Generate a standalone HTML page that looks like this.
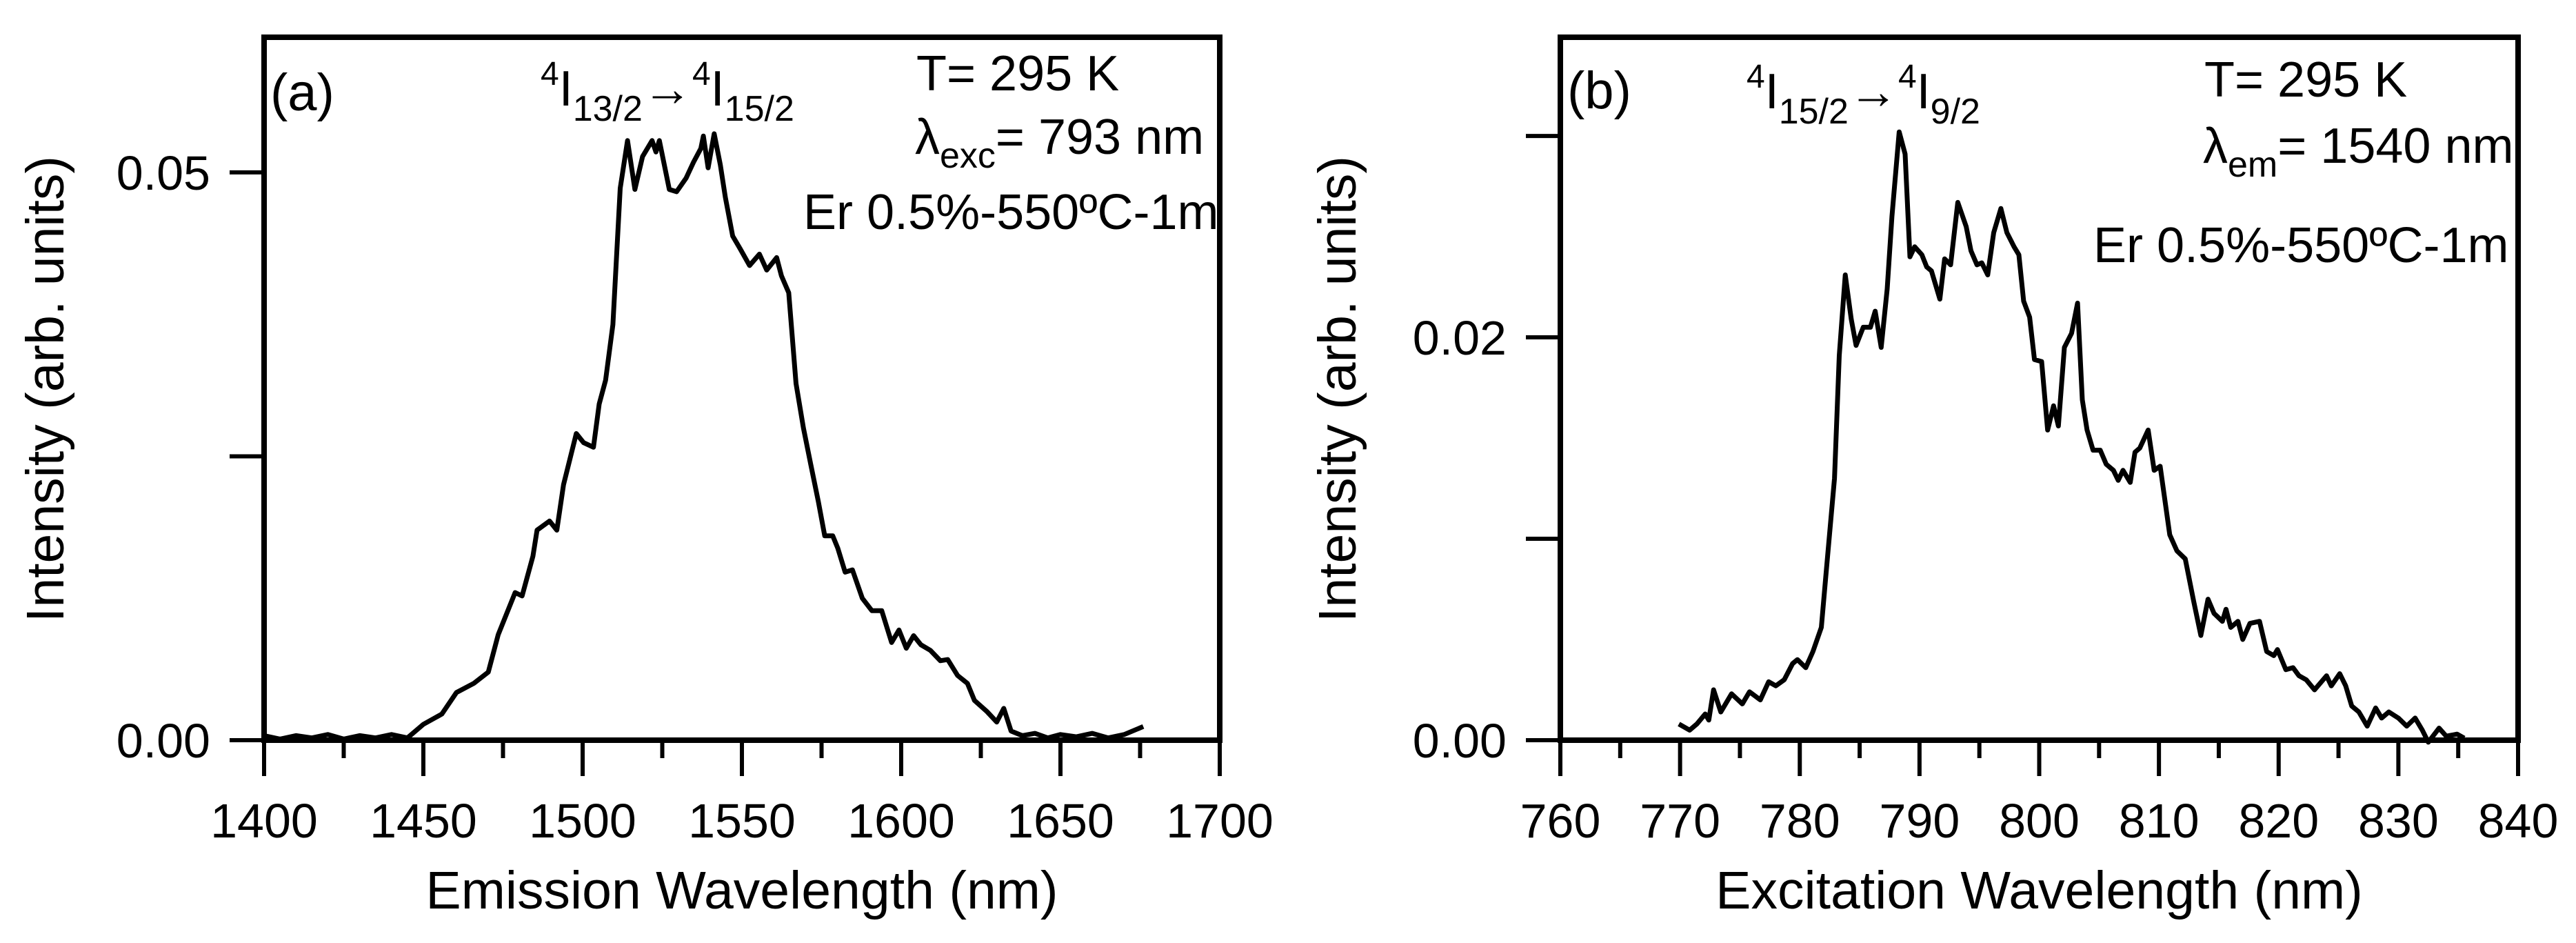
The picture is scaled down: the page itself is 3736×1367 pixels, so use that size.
<!DOCTYPE html>
<html><head><meta charset="utf-8"><style>
html,body{margin:0;padding:0;background:#fff;}
svg{display:block;font-family:"Liberation Sans",Arial,sans-serif;}
</style></head><body>
<svg id="chart" width="3736" height="1367" viewBox="0 0 3736 1367" xmlns="http://www.w3.org/2000/svg">
<rect width="3736" height="1367" fill="#fff"/>
<g id="panelA"></g>
<g id="panelB"></g>
</svg>
<script>
// Panel (a) emission data
const emWl = [1400,1405,1410,1415,1420,1425,1430,1435,1440,1445,1450,1455.8,1460.4,1465.8,1470.4,1473.5,1478.8,1481,1484.4,1485.7,1489.6,1491.9,1494,1498,1500.3,1503.4,1505.2,1507.2,1509.5,1511.8,1514.1,1516.4,1518.8,1521.8,1523,1524.1,1527.2,1529.5,1532.5,1534.8,1537.1,1537.9,1539.4,1541.3,1543.2,1544.8,1547.1,1549.4,1552.4,1555.5,1557.8,1560.9,1562.4,1564.7,1567,1569.3,1571.6,1574,1576,1578.5,1580.1,1582.4,1584.7,1587.8,1590.8,1593.9,1597,1599.3,1601.6,1603.9,1606.2,1609.2,1612.3,1614.6,1617.7,1620.8,1623,1627,1630,1632.2,1634.5,1638,1642,1646,1650,1655,1660,1665,1670,1676];
const emInt = [0.0004,0.0001,0.0004,0.0002,0.0005,0.0001,0.0004,0.0002,0.0005,0.0002,0.0014,0.0023,0.0042,0.005,0.006,0.0093,0.013,0.0127,0.0162,0.0185,0.0193,0.0185,0.0225,0.027,0.0262,0.0258,0.0296,0.0317,0.0366,0.0486,0.0528,0.0485,0.0514,0.0528,0.0518,0.0528,0.0485,0.0483,0.0495,0.0509,0.0521,0.0532,0.0504,0.0534,0.0507,0.0478,0.0444,0.0433,0.0418,0.0428,0.0414,0.0425,0.0409,0.0394,0.0314,0.0275,0.0243,0.021,0.018,0.018,0.0169,0.0148,0.015,0.0125,0.0114,0.0114,0.0086,0.0097,0.0081,0.0092,0.0084,0.0079,0.007,0.0071,0.0057,0.005,0.0035,0.0025,0.0016,0.0028,0.0008,0.0004,0.0006,0.0002,0.0005,0.0003,0.0006,0.0002,0.0005,0.0012];
const emXTicks = [1400,1450,1500,1550,1600,1650,1700];
const emYTicks = [0, 0.05];
const emYTickLabels = ["0.00","0.05"];
// Panel (b) excitation data
const exWl = [769.9,770.8,771.4,772.1,772.4,772.8,773.4,774.3,775.2,775.8,776.7,777.4,778,778.7,779.4,779.8,780.5,781.1,781.8,782.2,782.9,783.3,783.8,784.3,784.7,785.3,785.9,786.3,786.8,787.3,787.7,788.3,788.8,789.2,789.6,790.2,790.6,791,791.7,792.1,792.6,793.2,793.9,794.3,794.8,795.2,795.7,796.2,796.8,797.3,797.9,798.3,798.7,799.2,799.6,800.2,800.7,801.2,801.6,802.1,802.7,803.2,803.6,804,804.5,805.1,805.6,806.2,806.6,807,807.6,808,808.4,809.1,809.6,810.1,810.9,811.5,812.2,812.9,813.5,814.1,814.6,815.3,815.6,816,816.6,817,817.6,818.4,819,819.6,819.9,820.6,821.2,821.7,822.3,823,824,824.4,825.1,825.6,826.1,826.7,827.4,828.1,828.6,829.2,830,830.7,831.4,832,832.5,833.4,834,834.9,835.5];
const exInt = [0.0008,0.0005,0.0008,0.0013,0.001,0.0025,0.0014,0.0023,0.0018,0.0024,0.002,0.0029,0.0027,0.003,0.0038,0.004,0.0036,0.0044,0.0056,0.0083,0.013,0.0191,0.0231,0.0209,0.0196,0.0205,0.0205,0.0213,0.0195,0.0224,0.026,0.0302,0.0291,0.024,0.0245,0.0241,0.0235,0.0233,0.0219,0.0239,0.0236,0.0267,0.0255,0.0243,0.0236,0.0237,0.0231,0.0252,0.0264,0.0252,0.0245,0.0241,0.0218,0.021,0.0189,0.0188,0.0154,0.0166,0.0156,0.0195,0.0202,0.0217,0.0169,0.0154,0.0144,0.0144,0.0137,0.0134,0.0129,0.0134,0.0128,0.0143,0.0145,0.0154,0.0134,0.0136,0.0102,0.0094,0.009,0.0069,0.0052,0.007,0.0063,0.0059,0.0065,0.0056,0.0059,0.005,0.0058,0.0059,0.0044,0.0042,0.0045,0.0035,0.0036,0.0032,0.003,0.0025,0.0032,0.0027,0.0033,0.0027,0.0017,0.0014,0.0007,0.0016,0.0011,0.0014,0.0011,0.0007,0.0011,0.0005,-0.0001,0.0006,0.0002,0.0003,0.0001];
const exXTicks = [760,770,780,790,800,810,820,830,840];
const exYTicks = [0, 0.02];
const exYTickLabels = ["0.00","0.02"];

const NS = "http://www.w3.org/2000/svg";
function mk(parent, tag, attrs, text){
  const e = document.createElementNS(NS, tag);
  for (const k in attrs) e.setAttribute(k, attrs[k]);
  if (text !== undefined) e.textContent = text;
  parent.appendChild(e);
  return e;
}

function drawPanel(g, cfg){
  const L=cfg.left,R=cfg.right,T=54,B=1073;
  const sx = v => L + (v-cfg.xmin)/(cfg.xmax-cfg.xmin)*(R-L);
  const sy = v => B - (v-0)/(cfg.ymax)*(B-T);
  for (let v=cfg.xmin; v<=cfg.xmax+1e-9; v+=cfg.xMinorStep){
    const isMajor = Math.abs(((v-cfg.xmin)/cfg.xMajorStep) - Math.round((v-cfg.xmin)/cfg.xMajorStep))<1e-6;
    const t = mk(g,'line',{x1:sx(v),x2:sx(v),y1:B,y2:B+(isMajor?52:26),stroke:'#000','stroke-width':6});
    
    
  }
  cfg.xTicks.forEach(v=>{
    const t = mk(g,'text',{x:sx(v),y:1214,'font-size':70,'text-anchor':'middle',fill:'#000'}, String(v));
    
    
  });
  for (let v=0; v<=cfg.ymax+1e-9; v+=cfg.yMinorStep){
    const t = mk(g,'line',{x1:L-50,x2:L,y1:sy(v),y2:sy(v),stroke:'#000','stroke-width':6});
    
    
  }
  cfg.yTicks.forEach((v,i)=>{
    const t = mk(g,'text',{x:L-78,y:sy(v)+25,'font-size':70,'text-anchor':'end',fill:'#000'}, cfg.yLabels[i]);
    
    
  });
  let d='';
  cfg.xs.forEach((x,i)=>{ d += (i?'L':'M') + sx(x).toFixed(1) + ',' + sy(cfg.ys[i]).toFixed(1); });
  const p = mk(g,'path',{d:d,fill:'none',stroke:'#000','stroke-width':7,'stroke-linejoin':'round'});
  
  
  const f = mk(g,'rect',{x:L,y:T,width:R-L,height:B-T,fill:'none',stroke:'#000','stroke-width':8});
  
  
  const xt = mk(g,'text',{x:(L+R)/2,y:1317,'font-size':77,'text-anchor':'middle',fill:'#000'}, cfg.xTitle);
  
  
  const yt = mk(g,'text',{x:0,y:0,'font-size':77,'text-anchor':'middle',fill:'#000',transform:'translate('+(cfg.yTitleX)+',564) rotate(-90)'}, 'Intensity (arb. units)');
  
  
}

drawPanel(document.getElementById('panelA'),{left:383,right:1769,xmin:1400,xmax:1700,ymax:0.0619,xMinorStep:25,xMajorStep:50,yMinorStep:0.025,xTicks:emXTicks,yTicks:emYTicks,yLabels:emYTickLabels,xs:emWl,ys:emInt,xTitle:'Emission Wavelength (nm)',yTitleX:92,seriesName:'emission-spectrum-line'});
drawPanel(document.getElementById('panelB'),{left:2263,right:3652,xmin:760,xmax:840,ymax:0.0349,xMinorStep:5,xMajorStep:10,yMinorStep:0.01,xTicks:exXTicks,yTicks:exYTicks,yLabels:exYTickLabels,xs:exWl,ys:exInt,xTitle:'Excitation Wavelength (nm)',yTitleX:1966,seriesName:'excitation-spectrum-line'});
</script>
<svg style="position:absolute;left:0;top:0" width="3736" height="1367" viewBox="0 0 3736 1367" xmlns="http://www.w3.org/2000/svg" font-family="Liberation Sans, Arial, sans-serif">
<g font-size="72" fill="#000">
<text x="392" y="160" font-size="76">(a)</text>
<text x="784" y="153"><tspan font-size="48" dy="-30">4</tspan><tspan dy="30">I</tspan><tspan font-size="52" dy="22">13/2</tspan><tspan dy="-22">→</tspan><tspan font-size="48" dy="-30">4</tspan><tspan dy="30">I</tspan><tspan font-size="52" dy="22">15/2</tspan></text>
<text x="1329" y="131">T= 295 K</text>
<text x="1327" y="223">λ<tspan font-size="52" dy="20">exc</tspan><tspan dy="-20">= 793 nm</tspan></text>
<text x="1165" y="332">Er 0.5%-550ºC-1m</text>
</g>
<g font-size="72" fill="#000">
<text x="2273" y="157" font-size="76">(b)</text>
<text x="2533" y="157"><tspan font-size="48" dy="-30">4</tspan><tspan dy="30">I</tspan><tspan font-size="52" dy="22">15/2</tspan><tspan dy="-22">→</tspan><tspan font-size="48" dy="-30">4</tspan><tspan dy="30">I</tspan><tspan font-size="52" dy="22">9/2</tspan></text>
<text x="3197" y="140">T= 295 K</text>
<text x="3195" y="236">λ<tspan font-size="52" dy="20">em</tspan><tspan dy="-20">= 1540 nm</tspan></text>
<text x="3036" y="380">Er 0.5%-550ºC-1m</text>
</g>
</svg>
</body></html>
